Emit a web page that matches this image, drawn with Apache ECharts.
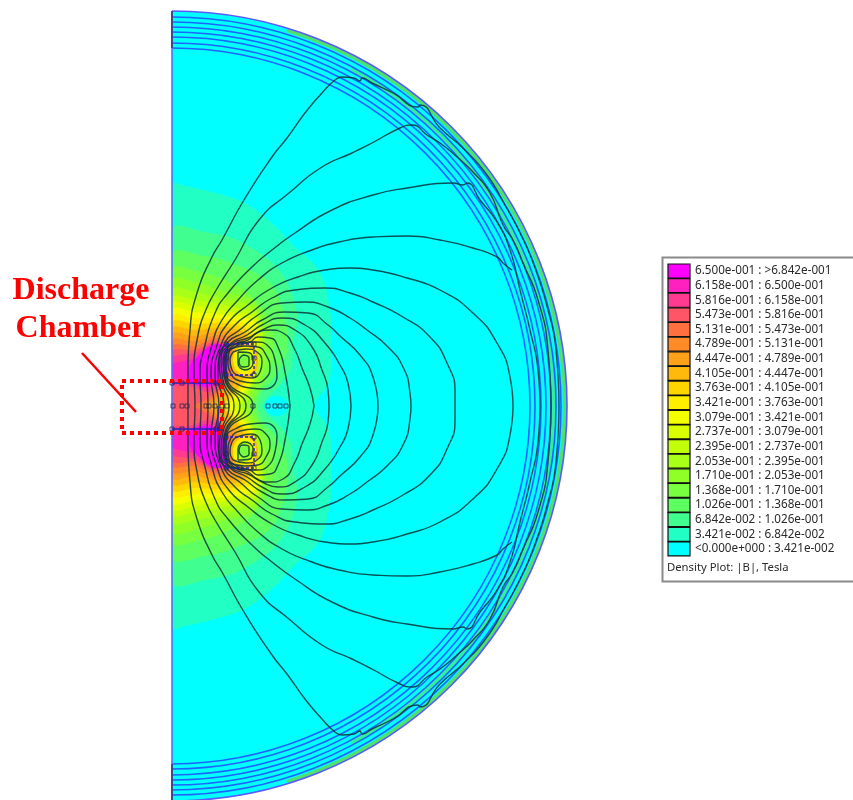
<!DOCTYPE html>
<html>
<head>
<meta charset="utf-8">
<title>Density Plot</title>
<style>
html,body{margin:0;padding:0;background:#fff;overflow:hidden}
#main{width:853px;height:800px;filter:blur(0.45px)}
</style>
<script src="https://cdn.jsdelivr.net/npm/echarts@6/dist/echarts.min.js"></script>
</head>
<body>
<div id="main"></div>
<script>
// legend, top row first
var legendRanges = ["6.500e-001 : >6.842e-001","6.158e-001 : 6.500e-001","5.816e-001 : 6.158e-001","5.473e-001 : 5.816e-001",
	"5.131e-001 : 5.473e-001","4.789e-001 : 5.131e-001","4.447e-001 : 4.789e-001","4.105e-001 : 4.447e-001",
	"3.763e-001 : 4.105e-001","3.421e-001 : 3.763e-001","3.079e-001 : 3.421e-001","2.737e-001 : 3.079e-001",
	"2.395e-001 : 2.737e-001","2.053e-001 : 2.395e-001","1.710e-001 : 2.053e-001","1.368e-001 : 1.710e-001",
	"1.026e-001 : 1.368e-001","6.842e-002 : 1.026e-001","3.421e-002 : 6.842e-002","<0.000e+000 : 3.421e-002"];
var legendColors = ["#ff00ff","#ff20c0","#ff3a90","#ff5566","#ff7040","#ff8a28","#ffa21a","#ffb80c","#ffd500","#ffee00",
	"#f4ff00","#daff00","#c2ff0a","#a8ff18","#90ff28","#78ff40","#5eff60","#40ff90","#22ffc4","#00ffff"];
var legendTitle = "Density Plot: |B|, Tesla";

// picture coordinates, mirror plane at y = 406, symmetry axis at x = 172
var mirrorY = 406;
var axisX = 172;
var ringRadii = [358,363,369,374,379,384,389,395];
var greenBands = [[379,384,62,"#30f0a0"],[391,395,73,"#50e070"]]; // rInner, rOuter, angle

// density levels, upper half, lowest level first, closed on the mirror plane
var level1 = [[172,184],[185,186],[212,192],[245,203],[272,223],[295,247],[319,270],[329,303],[332,337],[329,383],[318,398],[314,406]];
var level2 = [[172,230],[205,232],[239,241],[279,270],[297,313],[293,345],[291,368],[280,385],[268,397],[262,406]];
var level3 = [[172,255],[205,256],[232,263],[270,283],[285,317],[287,350],[276,375],[262,392],[257,406]];
var level4 = [[172,270],[200,272],[225,280],[250,295],[268,318],[274,350],[268,375],[258,392],[253,406]];
var level5 = [[172,281],[198,283],[225,292],[254,302],[264,328],[266,354],[262,375],[254,392],[250,406]];
var level6 = [[172,290],[195,292],[225,299],[254,308],[263,330],[262,356],[258,376],[250,392],[247,406]];
var level7 = [[172,298],[195,300],[225,305],[254,313],[262,330],[259,358],[256,376],[248,392],[241,406]];
var level8 = [[172,304],[195,306],[225,311],[254,317],[259,332],[257,358],[254,378],[245,393],[238,406]];
var level9 = [[172,310],[195,312],[225,315],[254,321],[257,335],[255,358],[252,380],[241,394],[233,406]];
var level10 = [[172,317],[195,318],[225,319],[250,326],[253,340],[253,358],[250,380],[237,395],[228,406]];
var level11 = [[172,323],[195,324],[225,323],[248,330],[251,345],[250,360],[247,378],[233,396],[223,406]];
var level12 = [[172,329],[195,330],[225,327],[246,334],[250,348],[248,362],[244,378],[229,397],[218,406]];
var level13 = [[172,335],[195,336],[222,331],[242,337],[246,352],[244,366],[238,378],[224,396],[213,406]];
var level14 = [[172,341],[195,341],[220,335],[238,341],[240,355],[238,370],[232,380],[220,394],[208,406]];
var level15 = [[172,347],[195,346],[218,338],[232,345],[234,358],[232,372],[226,382],[215,396],[202,406]];
var level16 = [[172,352],[195,350],[216,341],[228,348],[230,360],[228,374],[222,386],[208,398],[193,406]];
// these three close on themselves above the mirror plane
var level17 = [[172,358],[195,353],[214,343],[226,350],[228,362],[225,374],[220,386],[208,392],[190,386],[172,384]];
var level18 = [[172,365],[195,358],[212,346],[224,352],[226,362],[222,374],[216,384],[205,388],[188,380],[172,377]];
var level19 = [[188,370],[198,356],[212,345],[224,345],[228,352],[226,370],[220,382],[205,386],[190,382]];
var lowSpot = [[265,403],[271,397],[282,397],[288,403],[288,406],[265,406]];
// rings inside the coil, field falls towards its centre: [legend row, outline]
var coilCore = [
	[7,[[244,343],[256,350],[258,362],[254,374],[244,378],[234,372],[231,360],[234,348]]],
	[9,[[244,346],[254,351],[256,362],[252,372],[244,375],[236,370],[233,360],[236,350]]],
	[11,[[244,349],[252,353],[254,361],[250,370],[244,372],[238,368],[235,360],[238,352]]],
	[13,[[244,351],[250,354],[252,360],[249,367],[244,370],[239,366],[237,360],[239,354]]],
	[15,[[244,353],[248,356],[250,360],[248,365],[244,368],[240,365],[238,360],[240,356]]]
];

// flux lines, upper half
var flux1 = [[188,406],[188,372],[190,330],[197,293],[212,257],[222,240],[244,200],[272,157],[287,138],[305,113],[322,93],[335,80],[342,77],[354,78],[360,81],[362,78],[372,83],[393,93],[418,107],[420,105],[440,128],[465,150],[487,175],[505,205],[522,237],[535,268],[548,310],[556,350],[559,406]];
var flux2 = [[195,406],[194,372],[198,335],[205,312],[215,292],[235,260],[259,220],[289,193],[322,167],[352,153],[372,143],[400,128],[412,125],[427,135],[440,143],[457,157],[473,172],[490,193],[503,225],[513,240],[523,263],[538,300],[548,350],[551,406]];
var flux3 = [[201,406],[200,375],[205,345],[215,313],[228,293],[252,267],[272,250],[295,233],[332,210],[373,195],[407,188],[453,183],[463,185],[467,183],[480,200],[497,222],[510,250],[520,290],[530,330],[538,370],[540,406]];
var flux4 = [[208,406],[207,375],[212,345],[222,320],[238,300],[258,280],[282,263],[312,250],[339,242],[373,237],[407,236],[440,240],[473,248],[497,257],[503,263],[512,270]];
var flux5 = [[214,406],[211,376],[217,345],[228,323],[248,305],[272,288],[298,277],[325,270],[350,268],[373,270],[407,278],[440,290],[473,313],[497,343],[510,377],[513,406]];
var flux6 = [[219,406],[215,376],[221,345],[235,325],[252,312],[272,298],[295,290],[325,288],[350,293],[373,302],[403,317],[430,337],[447,363],[455,393],[455,406]];
var flux7 = [[224,406],[218,377],[224,345],[242,328],[258,315],[282,303],[305,302],[328,307],[350,318],[367,330],[387,346],[403,367],[410,393],[411,406]];
var flux8 = [[229,406],[221,380],[219,360],[228,342],[245,332],[262,320],[285,312],[308,313],[328,325],[340,336],[360,355],[373,377],[378,406]];
var flux9 = [[234,406],[223,380],[221,360],[230,344],[247,335],[262,325],[282,318],[305,325],[325,343],[340,365],[348,383],[351,406]];
var flux10 = [[240,406],[225,380],[223,362],[232,344],[248,338],[262,330],[278,325],[295,330],[312,347],[322,370],[328,390],[329,406]];
var flux11 = [[246,406],[226,380],[224,362],[234,345],[248,340],[257,333],[270,330],[283,333],[295,350],[302,368],[310,388],[314,406]];
var flux12 = [[253,406],[227,379],[225,362],[236,346],[250,342],[258,337],[270,338],[278,347],[285,372],[290,406]];
var fluxOpen = [flux1,flux2,flux3,flux4,flux5,flux6,flux7,flux8,flux9,flux10,flux11,flux12];
// closed round the upper coil only
var loop1 = [[228,346],[240,343],[257,342],[267,345],[275,360],[277,376],[265,389],[250,388],[235,383],[227,376],[226,360],[228,346]];
var loop2 = [[230,349],[245,346],[258,347],[266,355],[270,368],[265,379],[255,383],[240,381],[231,374],[228,360],[230,349]];
var loop3 = [[233,352],[246,349],[257,352],[262,362],[260,372],[252,378],[240,376],[232,370],[230,360],[233,352]];
var loop4 = [[238,352],[250,353],[253,363],[245,370],[238,363],[238,352]];
var loop5 = [[243,355],[249,358],[249,365],[243,367],[239,361],[243,355]];
var fluxLoops = [loop1,loop2,loop3,loop4,loop5];

// model outline
var coilBox = [[226,344],[254,344],[254,375],[226,375],[226,344]];
var chamberTop = [[172,383],[221,383]];
var chamberSide = [[218,383],[218,406]];
var nodesUpper = [[172,383],[182,383],[216,383],[221,383],[226,344],[254,344],[226,375],[254,375],[226,358],[240,344],[254,358]];
var nodesMiddle = [[173,406],[182,406],[187,406],[206,406],[209,406],[215,406],[222,406],[227,406],[253,406],[268,406],[275,406],[280,406],[286,406]];
var wallMarks = [[172,11],[172,48]];

// annotation
var redBox = [[222,381],[122,381],[122,433],[222,433],[222,381]];
var pointer = [[82,353],[136,412]];

function flip(p) { return [p[0], 2 * mirrorY - p[1]]; }
function reflected(up) { return up.slice().reverse().map(flip).concat(up.slice(1)); }
function acrossPlane(up) { return up.concat(up.slice().reverse().map(flip)); }
function levelColor(level) { return legendColors[19 - level]; }

var shapes = [];
shapes.push({ pts: acrossPlane(level1), color: levelColor(1) });
shapes.push({ pts: acrossPlane(lowSpot), color: legendColors[19] });
[level2,level3,level4,level5,level6,level7,level8,level9,level10,level11,level12,level13,level14,level15,level16].forEach(function(l, i) {
	shapes.push({ pts: acrossPlane(l), color: levelColor(i + 2) });
});
[level17,level18,level19].forEach(function(l, i) {
	shapes.push({ pts: l, color: levelColor(i + 17) });
	shapes.push({ pts: l.map(flip), color: levelColor(i + 17) });
});
coilCore.forEach(function(c) {
	shapes.push({ pts: c[1], color: legendColors[c[0]] });
	shapes.push({ pts: c[1].map(flip), color: legendColors[c[0]] });
});

function center(api) { return api.coord([axisX, mirrorY]); }

var series = [];
// iron disc
series.push({
	type: "custom", silent: true, z: 1, clip: false, data: [[axisX, mirrorY, ringRadii[7]]],
	renderItem: function(params, api) {
		var c = center(api);
		return { type: "sector", shape: { cx: c[0], cy: c[1], r0: 0, r: api.size([api.value(2), 0])[0], startAngle: -Math.PI / 2, endAngle: Math.PI / 2 }, style: { fill: legendColors[19] } };
	}
});
// density bands
series.push({
	type: "custom", silent: true, z: 2, clip: false, data: shapes.map(function(s, i) { return [i, i]; }),
	renderItem: function(params, api) {
		var s = shapes[params.dataIndex];
		return { type: "polygon", shape: { points: s.pts.map(function(p) { return api.coord(p); }), smooth: 0.35 }, style: { fill: s.color } };
	}
});
// cover what the smoothing pushes over the axis
series.push({
	type: "custom", silent: true, z: 3, clip: false, data: [[0, 0, axisX, 800]],
	renderItem: function(params, api) {
		var a = api.coord([api.value(0), api.value(1)]), b = api.coord([api.value(2), api.value(3)]);
		return { type: "rect", shape: { x: a[0], y: a[1], width: b[0] - a[0], height: b[1] - a[1] }, style: { fill: "#fff" } };
	}
});
// green parts of the shield
series.push({
	type: "custom", silent: true, z: 4, clip: false, data: greenBands.map(function(b, i) { return [i, i]; }),
	renderItem: function(params, api) {
		var b = greenBands[params.dataIndex], c = center(api), a = b[2] * Math.PI / 180;
		return { type: "sector", shape: { cx: c[0], cy: c[1], r0: api.size([b[0], 0])[0], r: api.size([b[1], 0])[0], startAngle: -a, endAngle: a }, style: { fill: b[3] } };
	}
});
// shield rings
series.push({
	type: "custom", silent: true, z: 5, clip: false, data: ringRadii.map(function(r) { return [axisX, mirrorY, r]; }),
	renderItem: function(params, api) {
		var c = center(api), last = params.dataIndex === ringRadii.length - 1;
		return { type: "arc", shape: { cx: c[0], cy: c[1], r: api.size([api.value(2), 0])[0], startAngle: -Math.PI / 2, endAngle: Math.PI / 2 }, style: { fill: null, stroke: last ? "#5a5aff" : "#1e64ff", lineWidth: 1.6 } };
	}
});

function addLine(pts, color, width, z, dash, smooth) {
	series.push({
		type: "line", data: pts, symbol: "none", silent: true, z: z, clip: false, animation: false,
		smooth: smooth || false, lineStyle: { color: color, width: width, type: dash || "solid" }
	});
}
fluxOpen.forEach(function(up) { addLine(reflected(up), "rgba(8,52,56,0.85)", 1.4, 6, null, 0.55); });
fluxLoops.forEach(function(l) {
	addLine(l, "rgba(8,52,56,0.85)", 1.4, 6, null, 0.5);
	addLine(l.map(flip), "rgba(8,52,56,0.85)", 1.4, 6, null, 0.5);
});
// axis of symmetry and outline
addLine([[axisX, 11], [axisX, 800]], "#5a6cff", 1.6, 7);
addLine(wallMarks, "#2a3a6a", 1.5, 8);
addLine(wallMarks.map(flip), "#2a3a6a", 1.5, 8);
addLine(coilBox, "#1c1cd8", 1.4, 7, [3, 2]);
addLine(coilBox.map(flip), "#1c1cd8", 1.4, 7, [3, 2]);
addLine(chamberTop, "#2222c0", 1.4, 7);
addLine(chamberTop.map(flip), "#2222c0", 1.4, 7);
addLine(reflected(chamberSide), "#2222c0", 1.4, 7);
series.push({
	type: "scatter", silent: true, z: 8, clip: false, symbol: "rect", symbolSize: 4,
	data: nodesUpper.concat(nodesUpper.map(flip)).concat(nodesMiddle),
	itemStyle: { color: "rgba(0,0,0,0)", borderColor: "#26264a", borderWidth: 1 }
});
addLine(redBox, "#ff0000", 4, 9, [4, 4]);
addLine(pointer, "#ff0000", 2.5, 9);

// legend panel
var panel = [
	{ type: "rect", shape: { x: 662.5, y: 257.5, width: 200, height: 324 }, style: { fill: "#fff", stroke: "#8a8a8a", lineWidth: 2 }, z: 20 }
];
legendRanges.forEach(function(t, i) {
	var y = 264 + i * 14.63;
	panel.push({ type: "rect", shape: { x: 668, y: y, width: 22, height: 14 }, style: { fill: legendColors[i], stroke: "#111", lineWidth: 1.2 }, z: 21 });
	panel.push({ type: "text", x: 695, y: y + 7, style: { text: t, fill: "#2a2a2a", font: "11.7px 'Noto Sans'", textAlign: "left", textVerticalAlign: "middle" }, z: 21 });
});
panel.push({ type: "text", x: 667, y: 568, style: { text: legendTitle, fill: "#2a2a2a", font: "11.3px 'Noto Sans'", textAlign: "left", textVerticalAlign: "middle" }, z: 21 });
panel.push({ type: "text", x: 81, y: 291, style: { text: "Discharge", fill: "#ff0000", font: "bold 32px 'Liberation Serif'", textAlign: "center", textVerticalAlign: "middle" }, z: 21 });
panel.push({ type: "text", x: 80.5, y: 329, style: { text: "Chamber", fill: "#ff0000", font: "bold 32px 'Liberation Serif'", textAlign: "center", textVerticalAlign: "middle" }, z: 21 });

var myEchart = echarts.init(document.getElementById("main"));
var option = {
	backgroundColor: "#fff",
	animation: false,
	grid: { left: 0, top: 0, width: 853, height: 800 },
	xAxis: { type: "value", min: 0, max: 853, show: false },
	yAxis: { type: "value", min: 0, max: 800, inverse: true, show: false },
	graphic: panel,
	series: series
};
myEchart.setOption(option);
</script>
</body>
</html>
